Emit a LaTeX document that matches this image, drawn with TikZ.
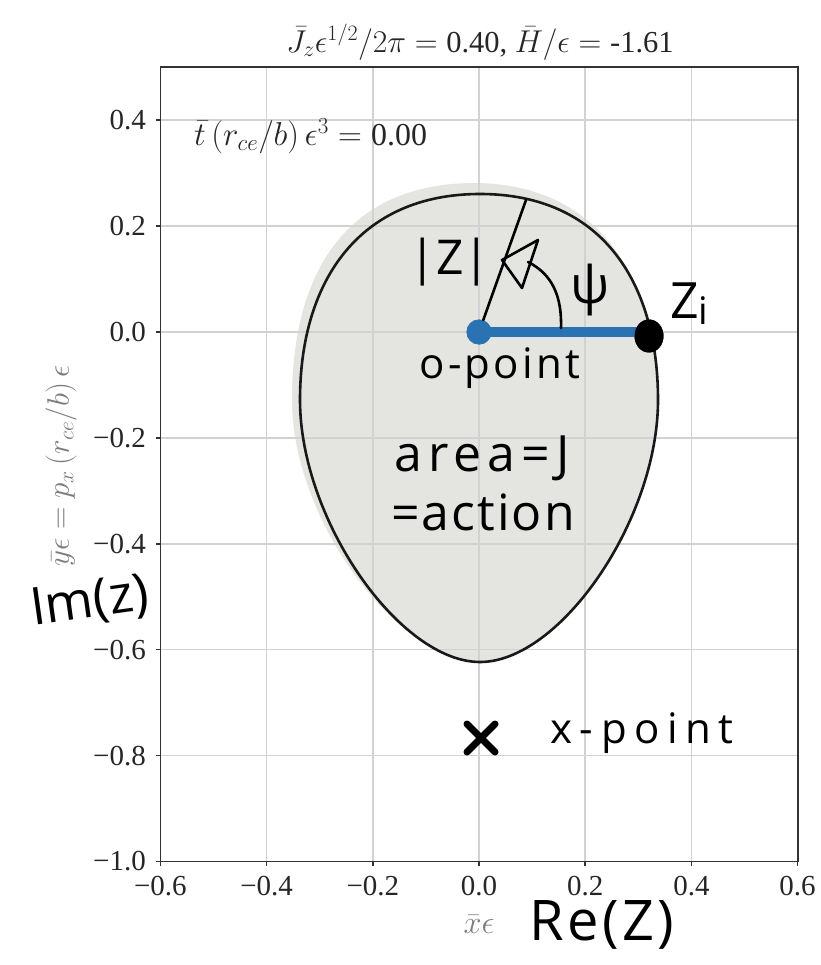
\documentclass[tikz,border=0pt]{standalone}
\usepackage{graphicx}
\usepackage{fontspec}
\setmainfont{Liberation Serif}
\newfontfamily\hand{Open Sans}
\usetikzlibrary{arrows.meta,shapes.misc,shapes.geometric}
\definecolor{gridc}{HTML}{D2D2D2}
\definecolor{fillc}{HTML}{E4E4E0}
\definecolor{bluec}{HTML}{2A73B2}
\definecolor{labc}{HTML}{7C7C7C}
\definecolor{framec}{HTML}{333333}
\begin{document}
\begin{tikzpicture}[x=1pt,y=-1pt,
  hw/.style={font=\hand\fontsize{#1}{#1}\selectfont, inner sep=0pt, text=black},
  ticklab/.style={font=\fontsize{29}{32}\selectfont, text=black!85, inner sep=0pt},
  mathlab/.style={font=\fontsize{24}{26}\selectfont, inner sep=0pt},
  handline/.style={line width=2.6pt, line cap=round, line join=round, black},
  gridline/.style={gridc, line width=1.5pt},
  tickmark/.style={framec, line width=1.5pt}]
\useasboundingbox (0,0) rectangle (820,965);
\fill[white] (0,0) rectangle (820,965);

% gray hand-painted area
\fill[fillc] (475,183) .. controls (600,184) and (657,280) .. (657,400)
  .. controls (657,520) and (560,661) .. (480,661)
  .. controls (398,661) and (292,520) .. (292,400)
  .. controls (292,268) and (350,183) .. (475,183) -- cycle;

% grid
\foreach \gx in {160.4,266.6,372.8,479,585.2,691.4,797.6}
  \draw[gridline] (\gx,67.25) -- (\gx,861.5);
\foreach \gy in {120.2,226.1,332,437.9,543.8,649.7,755.6,861.5}
  \draw[gridline] (160.4,\gy) -- (797.6,\gy);

% frame and ticks
\draw[framec, line width=1.8pt] (160.4,67.25) rectangle (797.6,861.5);
\foreach \gx/\lab [count=\i] in {160.4/{−0.6},266.6/{−0.4},372.8/{−0.2},479/{0.0},585.2/{0.2},691.4/{0.4},797.6/{0.6}} {
  \draw[tickmark] (\gx,861.5) -- (\gx,866);
  \node[ticklab] (xt\i) at (\gx,886.5) {\lab};
}
\foreach \gy/\lab [count=\i] in {120.2/{0.4},226.1/{0.2},332/{0.0},437.9/{−0.2},543.8/{−0.4},649.7/{−0.6},755.6/{−0.8},861.5/{−1.0}} {
  \draw[tickmark] (156,\gy) -- (160.4,\gy);
  \node[ticklab, anchor=east] (yt\i) at (146,\gy) {\lab};
}

% title, annotation, axis labels
\node[mathlab, text=black!85] (title) at (480,42)
  {\scalebox{1.27}{$\bar J_z\epsilon^{1/2}/2\pi = {}$0.40, $\bar H/\epsilon = {}$-1.61}};
\node[mathlab, text=black!85, anchor=west] (tlab) at (194,136)
  {\scalebox{1.33}{$\bar t\,(r_{ce}/b)\,\epsilon^3 = {}$0.00}};
\node[mathlab, text=labc, rotate=90] (ylab) at (61,466)
  {\scalebox{1.25}{$\bar y\epsilon = p_x\,(r_{ce}/b)\,\epsilon$}};
\node[mathlab, text=labc] (xlab) at (479,924)
  {\scalebox{1.3}{$\bar x\epsilon$}};

% closed orbit
\draw[black!90, line width=2.6pt] (480,194) .. controls (600,194) and (658,280) .. (658,400)
  .. controls (658,520) and (560,662) .. (480,662)
  .. controls (400,662) and (300,520) .. (300,400)
  .. controls (300,280) and (360,194) .. (480,194) -- cycle;

% o-point, z_i and the blue segment
\node[circle, fill=bluec, inner sep=0pt, minimum size=25pt] (O) at (479,332) {};
\node[ellipse, fill=black, inner sep=0pt, minimum width=29pt, minimum height=33pt] (Zi) at (649,336) {};
\draw[bluec, line width=9.5pt] (O.center) -- (O.center -| Zi.center);
\node[circle, fill=bluec, inner sep=0pt, minimum size=25pt] (O2) at (O) {};
\node[ellipse, fill=black, inner sep=0pt, minimum width=29pt, minimum height=33pt] (Zi2) at (Zi) {};

% radius line, angle arc and arrowhead
\coordinate (rtip) at (526,200);
\draw[handline] (O) -- (rtip);
\coordinate (arcA) at (561,328);
\coordinate (arcB) at (528,262);
\draw[handline] (arcA) .. controls (562,296) and (552,274) .. (arcB);
\coordinate (hA) at (538,240);
\coordinate (hB) at (502,260);
\coordinate (hC) at (522,288);
\draw[handline] (hA) -- (hB) -- (hC) -- cycle;

% x-point
\node[cross out, draw=black, line width=7pt, line cap=round, minimum size=21pt, inner sep=0pt] (X) at (481,738) {};

% handwritten labels
\node[hw=48] (absz) at (450,262) {|Z|};
\node[hw=52] (psi) at (590,290) {ψ};
\node[hw=50, anchor=base west] (zlab) at (670,318) {Z\raisebox{-6pt}{\fontsize{38}{38}\selectfont i}};
\node[hw=42] (opt) at (500,368) {\addfontfeature{LetterSpace=8}o-point};
\node[hw=50] (area) at (482,458) {\addfontfeature{LetterSpace=12}area=J};
\node[hw=50] (act) at (483,512) {\addfontfeature{LetterSpace=4}=action};
\node[hw=42] (xpt) at (642,733) {\addfontfeature{LetterSpace=18}x-point};
\node[hw=52, rotate=8] (imz) at (90,603) {Im(z)};
\node[hw=56] (rez) at (602,925) {\addfontfeature{LetterSpace=6}Re(Z)};
\end{tikzpicture}
\end{document}
